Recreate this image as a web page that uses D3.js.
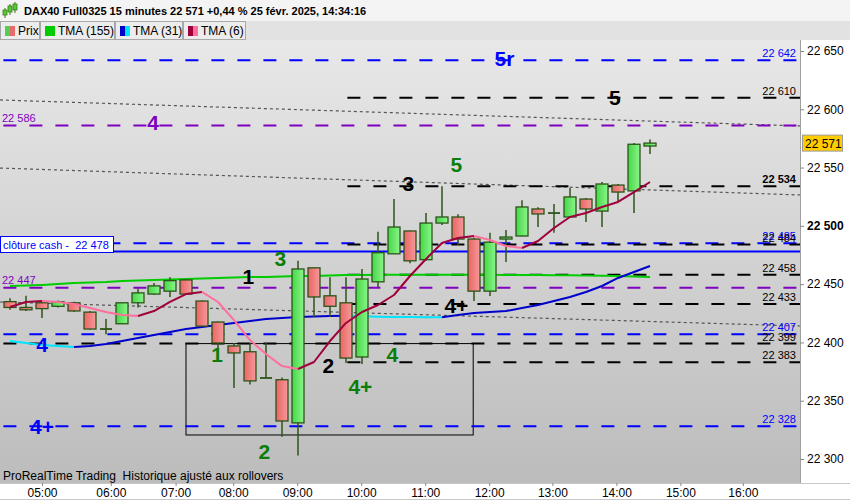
<!DOCTYPE html>
<html><head><meta charset="utf-8">
<script src="https://cdn.jsdelivr.net/npm/d3@7"></script>
<style>
body{margin:0;background:#fff;}
svg{display:block;font-family:Arial,"Liberation Sans",sans-serif;}
text{white-space:pre;}
</style>
</head><body>
<svg id="c" width="850" height="500"></svg>
<script>
// ---------- DATA ----------
const opens  = [22435,22430,22434,22431,22434,22426,22411.5,22416,22434,22441.5,22444,22453.6,22435.5,22417.5,22397,22392,22369.5,22368,22331,22464,22440,22434,22387.5,22452,22476,22495.6,22471,22502.4,22507.6,22488.7,22444,22488.7,22491.3,22514.5,22511,22507.6,22523,22512.7,22535,22530,22568.5];
const highs  = [22438,22440,22436,22436,22435,22427,22420,22434,22446,22451,22456,22454,22436,22418,22399.5,22399.5,22399.5,22370,22470,22464,22456,22456,22463,22495,22523,22496,22511,22534,22510,22490,22494,22496.4,22522,22516,22518.7,22532.5,22524,22537.6,22536,22571,22574];
const lows   = [22428,22427,22421,22430,22426,22411,22407,22416,22430,22441,22439,22441,22414,22393,22361,22364,22369.5,22319,22303,22421.8,22422,22382.4,22381.5,22447.5,22476,22468,22470,22500.7,22483.6,22435.5,22439.8,22469,22491,22499,22494,22507,22503.3,22499,22520.5,22511,22561.6];
const closes = [22430,22428,22429,22435,22427,22411.5,22411.5,22434,22442.5,22448.5,22453,22441.5,22414,22399.5,22391,22367,22369.5,22332.6,22463,22439,22431,22386.6,22454.4,22477,22499,22470,22502.4,22507.6,22488.7,22444,22486,22490.4,22516.2,22510.2,22511,22524.8,22514.5,22535.9,22529,22570,22571];

const tma6   = [22430.4,22434.7,22435.5,22434.7,22433.0,22429.5,22426.1,22423.5,22422.7,22426.9,22434.7,22441.5,22443.3,22434.7,22419.2,22402.0,22390.1,22379.7,22377.2,22383.2,22401.2,22416.7,22426.1,22432.1,22440.7,22457.0,22471.6,22485.3,22489.6,22491.3,22487.9,22482.7,22481.0,22487.0,22498.2,22507.6,22511.0,22516.2,22520.5,22529.0,22537.6];
const tma31  = [22401.2,22399.5,22397.8,22396.9,22396.1,22396.9,22398.6,22401.2,22403.8,22406.4,22408.9,22411.5,22413.2,22414.9,22416.7,22418.4,22420.1,22421.0,22421.8,22422.2,22422.7,22422.9,22422.4,22422.1,22421.9,22421.8,22421.7,22421.6,22423.5,22425.2,22426.1,22426.9,22429.5,22432.1,22435.5,22439.0,22443.3,22448.4,22455.3,22460.4,22465.6];
const tma155 = [22448.4,22448.8,22449.3,22450.1,22451.0,22451.4,22451.8,22452.7,22453.1,22453.6,22454.0,22454.4,22454.8,22455.3,22455.7,22456.1,22456.1,22456.6,22457.0,22457.0,22457.4,22457.8,22457.9,22458.0,22458.0,22458.1,22458.1,22458.1,22458.1,22458.0,22458.0,22457.9,22457.9,22457.8,22457.7,22457.6,22457.5,22457.2,22456.9,22456.5,22456.1];

const priceTicks = [22300,22350,22400,22450,22500,22550,22600,22650];
const timeLabels = ["05:00","06:00","07:00","08:00","09:00","10:00","11:00","12:00","13:00","14:00","15:00","16:00"];
const timeBars   = [2,6.3,10.35,13.95,17.95,21.95,25.95,29.95,33.9,37.9,41.9,45.8];

// horizontal levels
const levelPrices = [22642,22610,22586,22534,22485,22484,22478,22458,22447,22433,22407,22399,22383,22328];
const levelKinds  = ["blue","black","purple","black","blue","black","cash","black","purple","black","blue","black","black","blue"];
const levelFromBar= [-0.6,20.9,-0.6,20.9,-0.6,20.9,-0.6,20.9,-0.6,20.9,-0.6,-0.6,20.9,-0.6];

// annotations
const noteTexts  = ["5r","5","4","5","3","3","1","4+","4","1","4","2","4+","4+","2"];
const noteBars   = [30.9,37.8,8.95,27.9,24.9,16.9,14.9,27.9,2,12.95,23.9,19.9,21.9,2,15.9];
const notePrices = [22644,22610.5,22589,22553,22536,22472.4,22457,22432,22398.6,22390,22390,22380.6,22362.6,22328.3,22306.9];
const noteKinds  = ["blue","black","purple","green","black","green","black","black","blue","green","green","black","green","blue","green"];

// trend lines (dotted)
const trendBar1 = [-0.625,-0.625,-0.625];
const trendP1   = [22608.0,22549.6,22434.7];
const trendBar2 = [49.375,49.375,49.375];
const trendP2   = [22585.7,22526.5,22414.1];

// zone rectangle
const zoneBars   = [11,28.95];
const zonePrices = [22399,22320.6];

const lastPrice = 22571;

// ---------- SETUP ----------
const svg = d3.select("#c");
const W=850,H=500, plotL=0, plotR=800, plotT=40, plotB=483;
const x = d3.scaleLinear().domain([-0.625,49.375]).range([plotL,plotR]);
const y = d3.scaleLinear().domain([22300,22650]).range([459,51]);
const fmt = v => d3.format(",")(v).replace(/,/g," ");
const kindColor = {blue:"#0000ff",black:"#000000",purple:"#8000c0",green:"#0a7d0a",cash:"#0000ff"};

const defs = svg.append("defs");
const bg = defs.append("linearGradient").attr("id","bg").attr("x1",0).attr("y1",0).attr("x2",0).attr("y2",1);
bg.append("stop").attr("offset","0%").attr("stop-color","#e8e8e8");
bg.append("stop").attr("offset","100%").attr("stop-color","#bcbcbc");
const gG = defs.append("linearGradient").attr("id","gG").attr("x1",0).attr("y1",0).attr("x2",1).attr("y2",0);
gG.append("stop").attr("offset","0%").attr("stop-color","#44d844");
gG.append("stop").attr("offset","100%").attr("stop-color","#8cf48c");
const gR = defs.append("linearGradient").attr("id","gR").attr("x1",0).attr("y1",0).attr("x2",1).attr("y2",0);
gR.append("stop").attr("offset","0%").attr("stop-color","#ec6464");
gR.append("stop").attr("offset","100%").attr("stop-color","#f49a9a");
defs.append("clipPath").attr("id","clip").append("rect")
  .attr("x",plotL).attr("y",plotT).attr("width",plotR-plotL).attr("height",plotB-plotT);

// header
svg.append("rect").attr("x",0).attr("y",0).attr("width",W).attr("height",21).attr("fill","#f4f4f4");
const icon = svg.append("g");
[[5,8,14],[10,4,11],[15,2,9]].forEach(([cx,t,b])=>{
  icon.append("line").attr("x1",cx).attr("x2",cx).attr("y1",t).attr("y2",b+4).attr("stroke","#3a7a1a");
  icon.append("rect").attr("x",cx-2).attr("y",t+2).attr("width",4).attr("height",b-t-1).attr("fill","#55cc33").attr("stroke","#3a7a1a").attr("stroke-width",0.8);
});
svg.append("text").attr("x",24).attr("y",15).attr("font-size",11).attr("font-weight","bold")
  .text("DAX40 Full0325 15 minutes 22 571 +0,44 % 25 févr. 2025, 14:34:16");

// legend row
svg.append("rect").attr("x",0).attr("y",21).attr("width",W).attr("height",19).attr("fill","#e2e2e2");
const legendItems = [
  {x0:0,x1:39,text:"Prix",c1:"#55cc55",c2:"#e86a6a"},
  {x0:40,x1:114,text:"TMA (155)",c1:"#00cc00",c2:"#00cc00"},
  {x0:115,x1:182,text:"TMA (31)",c1:"#0000cc",c2:"#00e5ff"},
  {x0:183,x1:245,text:"TMA (6)",c1:"#a0003c",c2:"#ff6f9c"}
];
legendItems.forEach(d=>{
  svg.append("rect").attr("x",d.x0+0.5).attr("y",21.5).attr("width",d.x1-d.x0).attr("height",18)
    .attr("fill","#ececec").attr("stroke","#a8a8a8");
  svg.append("rect").attr("x",d.x0+5).attr("y",26).attr("width",5).attr("height",10).attr("fill",d.c1);
  svg.append("rect").attr("x",d.x0+10).attr("y",26).attr("width",5).attr("height",10).attr("fill",d.c2);
  svg.append("text").attr("x",d.x0+18).attr("y",35).attr("font-size",12).attr("fill","#000").text(d.text);
});

// plot background
svg.append("rect").attr("x",plotL).attr("y",plotT).attr("width",plotR-plotL).attr("height",plotB-plotT).attr("fill","url(#bg)");

const plot = svg.append("g").attr("clip-path","url(#clip)");

plot.append("rect").attr("x",x(zoneBars[0])).attr("y",y(zonePrices[0]))
  .attr("width",x(zoneBars[1])-x(zoneBars[0])).attr("height",y(zonePrices[1])-y(zonePrices[0]))
  .attr("fill","none").attr("stroke","#000").attr("stroke-width",1);

trendBar1.forEach((b,i)=>{
  plot.append("line").attr("x1",x(b)).attr("y1",y(trendP1[i])).attr("x2",x(trendBar2[i])).attr("y2",y(trendP2[i]))
    .attr("stroke","#555").attr("stroke-width",1.2).attr("stroke-dasharray","3,3");
});

levelPrices.forEach((p,i)=>{
  const k = levelKinds[i];
  const ln = plot.append("line").attr("x1",x(levelFromBar[i])).attr("x2",plotR)
    .attr("y1",y(p)).attr("y2",y(p)).attr("stroke",kindColor[k]).attr("stroke-width",2);
  if(k!=="cash") ln.attr("stroke-dasharray","13,13").attr("stroke-dashoffset", -3);
});

function drawTMA(vals, up, down){
  const line = d3.line().x(d=>x(d[0])).y(d=>y(d[1]));
  let seg=[[0,vals[0]]], curDir=null;
  const segs=[];
  for(let i=1;i<vals.length;i++){
    const dir = vals[i]>=vals[i-1] ? "up":"down";
    if(curDir===null) curDir=dir;
    if(dir!==curDir){ segs.push({dir:curDir,pts:seg}); seg=[[i-1,vals[i-1]]]; curDir=dir; }
    seg.push([i,vals[i]]);
  }
  segs.push({dir:curDir,pts:seg});
  segs.forEach(s=>{
    plot.append("path").attr("d",line(s.pts)).attr("fill","none")
      .attr("stroke", s.dir==="up"?up:down).attr("stroke-width",2).attr("stroke-linejoin","round");
  });
}
drawTMA(tma155,"#00cc00","#00cc00");
drawTMA(tma31,"#0000cc","#00e5ff");

const bw = (x(1)-x(0))*0.75;
const bars = opens.map((o,i)=>({i,o,h:highs[i],l:lows[i],c:closes[i]}));
const cg = plot.append("g");
bars.forEach(d=>{
  const cx = x(d.i);
  cg.append("line").attr("x1",cx).attr("x2",cx).attr("y1",y(d.h)).attr("y2",y(d.l))
    .attr("stroke","#2c5419").attr("stroke-width",1.5);
  const top = y(Math.max(d.o,d.c)), bot = y(Math.min(d.o,d.c));
  if(bot-top<1){
    cg.append("line").attr("x1",cx-bw/2).attr("x2",cx+bw/2).attr("y1",top).attr("y2",top)
      .attr("stroke","#2c5419").attr("stroke-width",1.8);
  } else {
    cg.append("rect").attr("x",cx-bw/2).attr("y",top).attr("width",bw).attr("height",bot-top)
      .attr("fill", d.c>=d.o ? "url(#gG)":"url(#gR)").attr("stroke","#2c5419").attr("stroke-width",1.3);
  }
});

drawTMA(tma6,"#a0003c","#ff6f9c");

noteTexts.forEach((t,i)=>{
  plot.append("text").attr("x",x(noteBars[i])).attr("y",y(notePrices[i])).attr("dy","0.36em")
    .attr("text-anchor","middle").attr("font-size",21).attr("font-weight","bold")
    .attr("fill",kindColor[noteKinds[i]]).text(t);
});

levelPrices.forEach((p,i)=>{
  const k = levelKinds[i];
  if(k==="cash"){
    svg.append("rect").attr("x",0.5).attr("y",y(p)-15).attr("width",113).attr("height",16)
      .attr("fill","#fff").attr("stroke","#0000ff");
    svg.append("text").attr("x",3).attr("y",y(p)-3).attr("font-size",11).attr("fill","#0000ff")
      .text("clôture cash -  "+fmt(p));
  } else if(k==="purple"){
    svg.append("text").attr("x",2).attr("y",y(p)-4).attr("font-size",11).attr("fill",kindColor[k]).text(fmt(p));
  } else {
    svg.append("text").attr("x",796).attr("y",y(p)-3).attr("text-anchor","end").attr("font-size",11)
      .attr("font-weight", p===22534?"bold":"normal")
      .attr("fill",kindColor[k]).text(fmt(p));
  }
});

svg.append("text").attr("x",3).attr("y",480).attr("font-size",12).attr("fill","#000")
  .text("ProRealTime Trading  Historique ajusté aux rollovers");

svg.append("line").attr("x1",800.5).attr("x2",800.5).attr("y1",plotT).attr("y2",plotB).attr("stroke","#a0a0a0");
const yAxis = svg.append("g").attr("transform","translate(800,0)")
  .call(d3.axisRight(y).tickValues(priceTicks).tickSize(4).tickPadding(3).tickFormat(fmt));
yAxis.select(".domain").remove();
yAxis.selectAll(".tick line").attr("stroke","#888");
yAxis.selectAll(".tick text").attr("font-size",12).attr("font-family","Arial, Liberation Sans, sans-serif")
  .attr("fill","#000").attr("font-weight",d=>d===22500?"bold":"normal");

svg.append("rect").attr("x",802.5).attr("y",y(lastPrice)-8).attr("width",40).attr("height",16)
  .attr("fill","#ffcc00").attr("stroke","#9a9a9a");
svg.append("text").attr("x",805).attr("y",y(lastPrice)+4.5).attr("font-size",12).attr("fill","#000").text(fmt(lastPrice));

svg.append("line").attr("x1",0).attr("x2",W).attr("y1",plotB+0.5).attr("y2",plotB+0.5).attr("stroke","#c8c8c8");
const xAxis = svg.append("g").attr("transform",`translate(0,${plotB})`)
  .call(d3.axisBottom(x).tickValues(timeBars).tickSize(3).tickPadding(2).tickFormat((d,i)=>timeLabels[i]));
xAxis.select(".domain").remove();
xAxis.selectAll(".tick line").attr("stroke","#888");
xAxis.selectAll(".tick text").attr("font-size",12).attr("font-family","Arial, Liberation Sans, sans-serif").attr("fill","#000");
svg.append("line").attr("x1",0).attr("x2",W).attr("y1",499.5).attr("y2",499.5).attr("stroke","#c8c8c8");
</script>
</body></html>
